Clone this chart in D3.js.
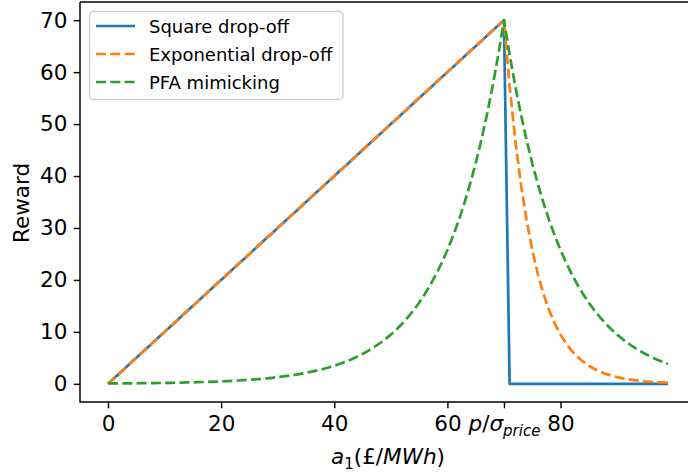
<!DOCTYPE html>
<html>
<head>
<meta charset="utf-8">
<script src="https://cdn.jsdelivr.net/npm/d3@7"></script>
<style>
  body { margin: 0; background: #fff; }
  text { font-family: "DejaVu Sans", sans-serif; }
</style>
</head>
<body>
<div id="chart"></div>
<script>

// x positions of the samples (a1)
const xValues = [
  0, 1, 2, 3, 4, 5, 6, 7, 8, 9, 10, 11, 12, 13, 14, 15, 16, 17, 18, 19,
  20, 21, 22, 23, 24, 25, 26, 27, 28, 29, 30, 31, 32, 33, 34, 35, 36, 37, 38, 39,
  40, 41, 42, 43, 44, 45, 46, 47, 48, 49, 50, 51, 52, 53, 54, 55, 56, 57, 58, 59,
  60, 61, 62, 63, 64, 65, 66, 67, 68, 69, 70, 71, 72, 73, 74, 75, 76, 77, 78, 79,
  80, 81, 82, 83, 84, 85, 86, 87, 88, 89, 90, 91, 92, 93, 94, 95, 96, 97, 98, 99
];

const squareDropOff = [
  0, 1, 2, 3, 4, 5, 6, 7, 8, 9, 10, 11, 12, 13, 14, 15, 16, 17, 18, 19,
  20, 21, 22, 23, 24, 25, 26, 27, 28, 29, 30, 31, 32, 33, 34, 35, 36, 37, 38, 39,
  40, 41, 42, 43, 44, 45, 46, 47, 48, 49, 50, 51, 52, 53, 54, 55, 56, 57, 58, 59,
  60, 61, 62, 63, 64, 65, 66, 67, 68, 69, 70, 0, 0, 0, 0, 0, 0, 0, 0, 0,
  0, 0, 0, 0, 0, 0, 0, 0, 0, 0, 0, 0, 0, 0, 0, 0, 0, 0, 0, 0
];

const exponentialDropOff = [
  0, 1, 2, 3, 4, 5, 6, 7, 8, 9, 10, 11, 12, 13, 14, 15, 16, 17, 18, 19,
  20, 21, 22, 23, 24, 25, 26, 27, 28, 29, 30, 31, 32, 33, 34, 35, 36, 37, 38, 39,
  40, 41, 42, 43, 44, 45, 46, 47, 48, 49, 50, 51, 52, 53, 54, 55, 56, 57, 58, 59,
  60, 61, 62, 63, 64, 65, 66, 67, 68, 69, 70, 57.31, 46.92, 38.42, 31.45, 25.75, 21.08, 17.26, 14.13, 11.57,
  9.47, 7.76, 6.35, 5.20, 4.26, 3.48, 2.85, 2.34, 1.91, 1.57, 1.28, 1.05, 0.86, 0.70, 0.58, 0.47, 0.39, 0.32, 0.26, 0.21
];

const pfaMimicking = [
  0.06, 0.07, 0.08, 0.09, 0.10, 0.10, 0.12, 0.13, 0.14, 0.16, 0.17, 0.19, 0.21, 0.23, 0.26, 0.29, 0.32, 0.35, 0.39, 0.43,
  0.47, 0.52, 0.58, 0.64, 0.70, 0.78, 0.86, 0.95, 1.05, 1.16, 1.28, 1.42, 1.57, 1.73, 1.91, 2.11, 2.34, 2.58, 2.85, 3.15,
  3.48, 3.85, 4.26, 4.70, 5.20, 5.75, 6.35, 7.02, 7.76, 8.57, 9.47, 10.47, 11.57, 12.79, 14.13, 15.62, 17.26, 19.08, 21.08, 23.30,
  25.75, 28.46, 31.45, 34.76, 38.42, 42.46, 46.92, 51.86, 57.31, 63.34, 70, 63.34, 57.31, 51.86, 46.92, 42.46, 38.42, 34.76, 31.45, 28.46,
  25.75, 23.30, 21.08, 19.08, 17.26, 15.62, 14.13, 12.79, 11.57, 10.47, 9.47, 8.57, 7.76, 7.02, 6.35, 5.75, 5.20, 4.70, 4.26, 3.85
];

const seriesNames = ['Square drop-off', 'Exponential drop-off', 'PFA mimicking'];
const xTicks = [0, 20, 40, 60, 70, 80];
const yTicks = [0, 10, 20, 30, 40, 50, 60, 70];

const W = 688, H = 476;
const colors = ['#1f77b4', '#ff7f0e', '#2ca02c'];
const dashes = [null, '10,4.3', '10,4.3'];
const axisFont = '21.5px';

const svg = d3.select('#chart').append('svg')
    .attr('width', W)
    .attr('height', H);

const xScale = d3.scaleLinear().domain([-4.95, 103.95]).range([80, 696]);
const yScale = d3.scaleLinear().domain([-3.5, 73.5]).range([402, 2]);

// axes
const xAxis = svg.append('g')
    .attr('transform', 'translate(0,402)')
    .call(d3.axisBottom(xScale).tickValues(xTicks).tickSize(6.3).tickPadding(7.5)
        .tickFormat(d => d === 70 ? '' : d));

const yAxis = svg.append('g')
    .attr('transform', 'translate(80,0)')
    .call(d3.axisLeft(yScale).tickValues(yTicks).tickSize(6.3).tickPadding(6.3));

[xAxis, yAxis].forEach(g => {
    g.select('.domain').remove();
    g.selectAll('line').attr('stroke', '#000').attr('stroke-width', 1.44);
    g.selectAll('text').attr('fill', '#000').style('font-size', axisFont)
        .style('font-family', '"DejaVu Sans", sans-serif');
});

// math label on the extra tick at 70
const t70 = xAxis.selectAll('.tick').filter(d => d === 70).select('text');
t70.append('tspan').style('font-style', 'italic').text('p');
t70.append('tspan').text('/');
t70.append('tspan').style('font-style', 'italic').text('σ');
t70.append('tspan').style('font-style', 'italic').style('font-size', '15px')
    .attr('dy', 4.5).text('price');

// lines
svg.append('clipPath').attr('id', 'clip')
    .append('rect').attr('x', 80).attr('y', 2).attr('width', 616).attr('height', 400);

const line = d3.line()
    .x((d, i) => xScale(xValues[i]))
    .y(d => yScale(d));

const plot = svg.append('g').attr('clip-path', 'url(#clip)');
[squareDropOff, exponentialDropOff, pfaMimicking].forEach((s, i) => {
    plot.append('path')
        .datum(s)
        .attr('d', line)
        .attr('fill', 'none')
        .attr('stroke', colors[i])
        .attr('stroke-width', 2.7)
        .attr('stroke-linejoin', 'round')
        .attr('stroke-dasharray', dashes[i]);
});

// frame
svg.append('path')
    .attr('d', 'M80,2V402H696M80,2H696V402')
    .attr('fill', 'none')
    .attr('stroke', '#000')
    .attr('stroke-width', 1.44);

// axis labels
svg.append('text')
    .attr('transform', 'translate(28.5,203)rotate(-90)')
    .attr('text-anchor', 'middle')
    .style('font-size', axisFont)
    .text('Reward');

const xl = svg.append('text')
    .attr('x', 388).attr('y', 464)
    .attr('text-anchor', 'middle')
    .style('font-size', axisFont);
xl.append('tspan').style('font-style', 'italic').text('a');
xl.append('tspan').style('font-size', '15px').attr('dy', 4.5).text('1');
xl.append('tspan').attr('dy', -4.5).text('(£/');
xl.append('tspan').style('font-style', 'italic').text('MWh');
xl.append('tspan').text(')');

// legend
const legend = svg.append('g');
legend.append('rect')
    .attr('x', 89.5).attr('y', 11.5).attr('width', 253.5).attr('height', 88)
    .attr('rx', 4)
    .attr('fill', '#fff').attr('fill-opacity', 0.8)
    .attr('stroke', '#cccccc').attr('stroke-width', 1.3);

seriesNames.forEach((name, i) => {
    const cy = 26 + i * 28;
    legend.append('line')
        .attr('x1', 96).attr('x2', 135)
        .attr('y1', cy).attr('y2', cy)
        .attr('stroke', colors[i])
        .attr('stroke-width', 2.7)
        .attr('stroke-dasharray', dashes[i]);
    legend.append('text')
        .attr('x', 149).attr('y', cy + 6.5)
        .style('font-size', '18px')
        .text(name);
});

</script>
</body>
</html>
